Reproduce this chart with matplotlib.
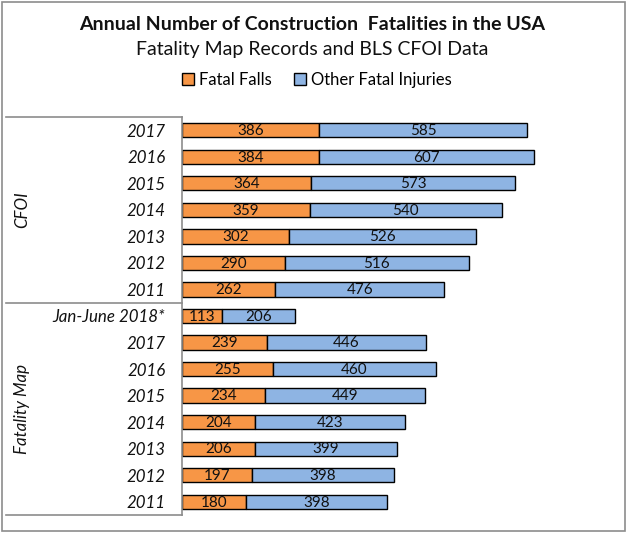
import matplotlib.pyplot as plt
import matplotlib.patches as mpatches
from matplotlib.lines import Line2D
import numpy as np

plt.rcParams["font.family"] = ["Lato", "DejaVu Sans"]

# rows top to bottom
groups = ["CFOI", "Fatality Map"]
cfoi_years = ["2017", "2016", "2015", "2014", "2013", "2012", "2011"]
cfoi_falls = [386, 384, 364, 359, 302, 290, 262]
cfoi_other = [585, 607, 573, 540, 526, 516, 476]
fmap_years = ["Jan-June 2018*", "2017", "2016", "2015", "2014", "2013", "2012", "2011"]
fmap_falls = [113, 239, 255, 234, 204, 206, 197, 180]
fmap_other = [206, 446, 460, 449, 423, 399, 398, 398]

ORANGE = "#F79646"
BLUE = "#8EB4E3"
GRAY = "#8c8c8c"

labels = cfoi_years + fmap_years
falls = np.array(cfoi_falls + fmap_falls)
other = np.array(cfoi_other + fmap_other)
n = len(labels)
y = np.arange(n)

W, H = 630, 536
fig = plt.figure(figsize=(W / 100, H / 100), dpi=100)

# axes box in pixel terms
left_px, right_px, top_px, bot_px = 182, 615, 117, 515
ax = fig.add_axes([left_px / W, 1 - bot_px / H,
                   (right_px - left_px) / W, (bot_px - top_px) / H])

bh = 0.54
ax.barh(y, falls, height=bh, color=ORANGE, edgecolor="black", linewidth=1.0)
ax.barh(y, other, left=falls, height=bh, color=BLUE, edgecolor="black", linewidth=1.0)

for i in range(n):
    ax.text(falls[i] / 2, y[i] + 0.03, str(falls[i]), ha="center", va="center",
            fontsize=11, color="#111111")
    ax.text(falls[i] + other[i] / 2, y[i] + 0.03, str(other[i]), ha="center",
            va="center", fontsize=11, color="#111111")

ax.set_ylim(n - 0.5, -0.5)
ax.set_xlim(0, (right_px - left_px) / 0.3555)
ax.set_yticks(y)
ax.set_yticklabels(labels, fontsize=12.2, style="italic", color="#111111")
ax.tick_params(axis="y", length=0, pad=12)
ax.set_xticks([])
for side in ["top", "right", "bottom"]:
    ax.spines[side].set_visible(False)
ax.spines["left"].set_color(GRAY)
ax.spines["left"].set_linewidth(1.2)

# group separators and outer labels
for ypx in [117, 303, 515]:
    fig.add_artist(Line2D([6 / W, left_px / W], [1 - ypx / H, 1 - ypx / H],
                          color=GRAY, linewidth=1.2))
fig.text(22 / W, 1 - 210 / H, groups[0], rotation=90, ha="center", va="center",
         fontsize=12.2, style="italic", color="#111111")
fig.text(22 / W, 1 - 409 / H, groups[1], rotation=90, ha="center", va="center",
         fontsize=12.2, style="italic", color="#111111")

# titles
fig.text(312 / W, 1 - 25 / H, "Annual Number of Construction  Fatalities in the USA",
         ha="center", va="center", fontsize=14, fontweight="bold", color="#111111")
fig.text(312 / W, 1 - 50 / H, "Fatality Map Records and BLS CFOI Data",
         ha="center", va="center", fontsize=14, color="#111111")

fig.legend(handles=[
    mpatches.Patch(facecolor=ORANGE, edgecolor="black", label="Fatal Falls"),
    mpatches.Patch(facecolor=BLUE, edgecolor="black", label="Other Fatal Injuries"),
], loc="center", bbox_to_anchor=(317 / W, 1 - 80 / H), ncol=2, frameon=False,
    fontsize=12, handlelength=0.75, handleheight=0.75, handletextpad=0.3,
    columnspacing=1.3)

# outer border
fig.add_artist(mpatches.Rectangle((1.5 / W, 1 - 531 / H), 623 / W, 529.5 / H,
                                  fill=False, edgecolor=GRAY, linewidth=1.2,
                                  transform=fig.transFigure))

fig.savefig("out.png", dpi=100)
